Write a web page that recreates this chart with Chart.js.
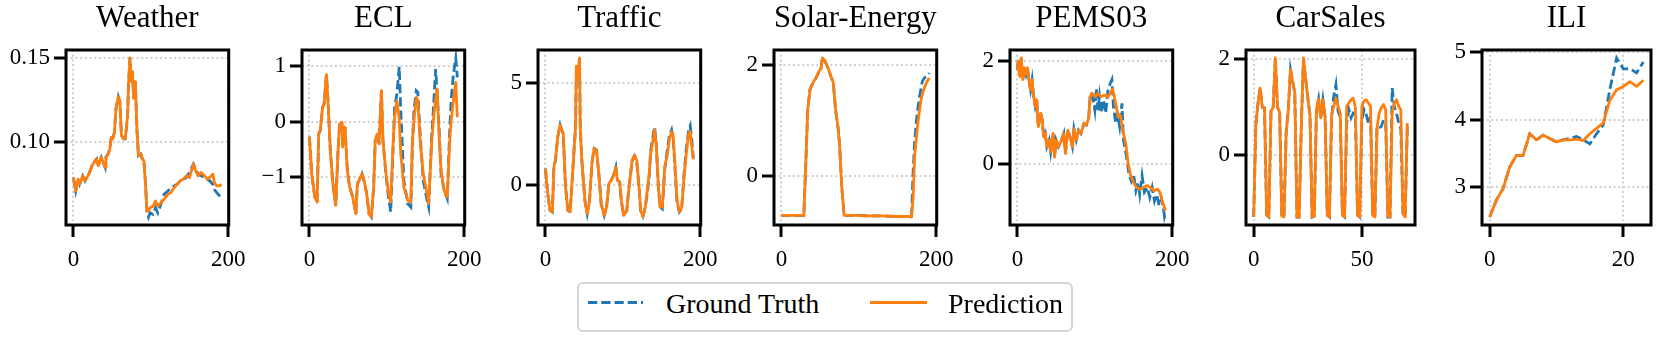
<!DOCTYPE html>
<html>
<head>
<meta charset="utf-8">
<script src="https://cdn.jsdelivr.net/npm/chart.js@4.4.1/dist/chart.umd.min.js"></script>
<style>
html, body { margin: 0; padding: 0; background: #fff; overflow: hidden; }
#wrap { position: relative; width: 1660px; height: 338px; }
canvas.panel { position: absolute; top: 0; }
#legend {
    position: absolute; left: 577px; top: 282px; width: 492px; height: 46px;
    border: 2px solid #d4d4d4; border-radius: 6px;
    font-family: "Liberation Serif", "Times New Roman", serif; font-size: 28px; color: #000;
}
#legend svg { position: absolute; left: 0; top: 0; }
#legend span { position: absolute; top: 5.5px; line-height: 28px; white-space: nowrap; }
</style>
</head>
<body>
<div id="wrap">
    <canvas class="panel" id="chart-Weather" width="255" height="275" style="left:0px"></canvas>
    <canvas class="panel" id="chart-ECL" width="255" height="275" style="left:236px"></canvas>
    <canvas class="panel" id="chart-Traffic" width="255" height="275" style="left:472px"></canvas>
    <canvas class="panel" id="chart-Solar" width="255" height="275" style="left:708px"></canvas>
    <canvas class="panel" id="chart-PEMS03" width="255" height="275" style="left:944px"></canvas>
    <canvas class="panel" id="chart-CarSales" width="255" height="275" style="left:1180px"></canvas>
    <canvas class="panel" id="chart-ILI" width="255" height="275" style="left:1416px"></canvas>
    <div id="legend">
        <svg width="492" height="46">
            <line x1="9" y1="18.5" x2="64" y2="18.5" stroke="#1f77b4" stroke-width="2.8" stroke-dasharray="9.25 4"></line>
            <line x1="291" y1="18.5" x2="348" y2="18.5" stroke="#ff7f0e" stroke-width="2.8"></line>
        </svg>
        <span style="left:87px">Ground Truth</span>
        <span style="left:369px">Prediction</span>
    </div>
</div>
<script>
// ---- data (x = time step) ----
// history is shared by both lines, truth / pred are the forecast part

var weatherHistX = [0, 3, 6, 8, 12, 15, 20, 24, 28, 30, 32, 36, 41, 42, 45, 47, 49, 51, 53, 55, 58, 60, 62, 65, 67, 70, 71, 73, 75, 76, 78, 80, 82, 84, 87, 89, 91, 93, 95];
var weatherHist = [0.079, 0.071, 0.078, 0.075, 0.080, 0.077, 0.081, 0.086, 0.089, 0.090, 0.086, 0.091, 0.085, 0.091, 0.093, 0.096, 0.103, 0.102, 0.106, 0.120, 0.127, 0.124, 0.104, 0.102, 0.102, 0.116, 0.132, 0.150, 0.136, 0.142, 0.126, 0.136, 0.108, 0.092, 0.093, 0.090, 0.089, 0.076, 0.059];
var weatherFutX = [97, 99, 103, 106, 109, 113, 117, 122, 126, 130, 134, 138, 142, 146, 150, 155, 157, 161, 165, 169, 173, 176, 180, 182, 185, 189, 191];
var weatherTruth = [0.0555, 0.058, 0.057, 0.061, 0.058, 0.063, 0.069, 0.071, 0.073, 0.074, 0.075, 0.077, 0.078, 0.079, 0.082, 0.087, 0.085, 0.081, 0.080, 0.079, 0.078, 0.077, 0.075, 0.072, 0.070, 0.068, 0.067];
var weatherPred = [0.059, 0.061, 0.062, 0.065, 0.062, 0.064, 0.066, 0.069, 0.070, 0.073, 0.075, 0.077, 0.078, 0.080, 0.079, 0.087, 0.084, 0.080, 0.082, 0.080, 0.078, 0.079, 0.081, 0.076, 0.074, 0.074, 0.075];

var eclHistX = [0, 3, 7, 10, 12, 14, 17, 19, 22, 24, 27, 30, 32, 34, 37, 39, 42, 43, 46, 49, 52, 56, 60, 62, 66, 68, 71, 74, 77, 80, 83, 85, 88, 90, 93, 95];
var eclHist = [-0.27, -0.94, -1.36, -1.45, -0.22, -0.16, 0.26, 0.32, 0.85, 0.38, -0.52, -1.06, -1.30, -1.51, -0.52, -0.04, -0.01, -0.46, -0.10, -0.88, -1.18, -1.36, -1.66, -1.12, -1.00, -0.94, -1.09, -1.30, -1.66, -1.72, -1.18, -0.34, -0.22, -0.40, 0.56, -0.34];
var eclFutX = [99, 102, 105, 108, 110, 113, 116, 118, 122, 127, 131, 133, 135, 138, 140, 143, 147, 152, 154, 158, 160, 163, 165, 167, 170, 174, 178, 181, 183, 186, 189, 191];
var eclTruth = [-0.98, -1.35, -1.63, -0.52, 0.26, 0.50, 0.99, 0.20, -1.06, -1.48, -1.54, -0.46, 0.20, 0.56, 0.53, -0.22, -1.06, -1.42, -1.54, -0.22, 0.20, 0.95, 0.50, 0.02, -0.94, -1.24, -1.39, -0.22, 0.38, 0.86, 1.15, 0.80];
var eclPred = [-0.94, -1.27, -1.45, -0.40, 0.08, 0.38, 0.05, -0.58, -1.18, -1.42, -1.45, -0.34, 0.02, 0.44, 0.38, -0.34, -0.94, -1.30, -1.48, -0.34, 0.02, 0.41, 0.59, -0.10, -0.88, -1.24, -1.36, -0.40, 0.02, 0.38, 0.71, 0.08];

var trafficHistX = [0, 3, 6, 9, 11, 13, 16, 19, 21, 23, 26, 29, 32, 34, 37, 39, 40, 42, 44, 45, 47, 51, 54, 57, 60, 63, 66, 69, 72, 76, 79, 82, 85, 88, 91, 93, 96];
var trafficHist = [0.79, -0.45, -1.27, -1.35, 0.87, 1.20, 2.36, 2.94, 2.69, 2.52, -0.12, -1.27, -1.35, -0.12, 1.70, 2.85, 5.83, 5.17, 6.24, 2.85, 1.20, -0.78, -1.44, -0.78, 1.04, 1.78, 1.70, 0.54, -0.94, -1.52, -1.11, 0.05, 0.21, 0.46, 0.87, 0.21, 0.13];
var trafficFutX = [98, 101, 105, 108, 112, 115, 118, 121, 123, 126, 129, 132, 134, 136, 139, 141, 143, 146, 148, 151, 154, 157, 160, 163, 165, 167, 170, 173, 176, 179, 182, 185, 187, 189, 191];
var trafficTruth = [-0.80, -1.50, -1.30, -0.10, 1.15, 1.40, 1.10, -0.20, -1.30, -1.55, -1.10, -0.30, 0.40, 1.70, 2.40, 2.85, 2.10, -0.20, -1.10, -1.20, 0.70, 1.60, 2.40, 2.70, 2.30, 1.00, -0.90, -1.35, -1.20, 0.50, 1.80, 2.70, 2.90, 2.20, 1.30];
var trafficPred = [-0.78, -1.52, -1.27, -0.12, 1.20, 1.45, 1.20, -0.12, -1.27, -1.60, -1.11, -0.12, 0.54, 1.53, 2.19, 2.69, 2.03, -0.12, -1.11, -1.11, 0.87, 1.37, 2.19, 2.61, 2.36, 1.20, -0.78, -1.35, -1.11, 0.38, 1.53, 2.52, 2.61, 1.86, 1.25];

var solarHistX = [0, 10, 20, 29, 31, 34, 37, 41, 45, 49, 51, 53, 56, 60, 63, 65, 67, 70, 73, 75, 78, 81, 90, 95];
var solarHist = [-0.70, -0.70, -0.70, -0.70, 0.04, 1.19, 1.56, 1.68, 1.77, 1.89, 1.92, 2.12, 2.07, 1.95, 1.83, 1.75, 1.68, 1.19, 0.89, 0.59, -0.20, -0.70, -0.70, -0.70];
var solarFutX = [96, 110, 130, 150, 165, 168, 170, 172, 174, 176, 178, 180, 182, 184, 186, 188, 191];
var solarTruth = [-0.70, -0.71, -0.71, -0.72, -0.72, -0.72, 0.05, 0.60, 0.95, 1.20, 1.40, 1.55, 1.70, 1.75, 1.78, 1.80, 1.85];
var solarPred = [-0.70, -0.71, -0.71, -0.72, -0.72, -0.73, -0.40, 0.35, 0.65, 0.92, 1.15, 1.35, 1.47, 1.56, 1.63, 1.70, 1.76];

var pemsHistX = [0, 1, 3, 5, 7, 9, 11, 13, 15, 17, 19, 21, 23, 25, 27, 30, 32, 34, 36, 38, 41, 43, 46, 48, 50, 53, 57, 60, 62, 65, 68, 71, 73, 76, 79, 82, 86, 89, 92, 94, 96];
var pemsHist = [1.82, 1.99, 1.69, 2.05, 1.63, 1.86, 1.73, 1.86, 1.60, 1.43, 1.63, 1.30, 1.11, 1.24, 0.72, 0.98, 0.85, 0.52, 0.59, 0.33, 0.46, 0.23, 0.59, 0.13, 0.46, 0.33, 0.46, 0.59, 0.20, 0.65, 0.52, 0.33, 0.68, 0.46, 0.65, 0.59, 0.78, 0.75, 0.88, 1.30, 1.37];
var pemsTruthX = [98, 100, 102, 104, 106, 108, 111, 114, 117, 120, 122, 124, 127, 129, 132, 135, 137, 141, 144, 147, 150, 153, 156, 158, 161, 164, 168, 171, 174, 177, 180, 183, 186, 189, 190, 191];
var pemsTruth = [1.24, 1.04, 1.46, 1.04, 1.30, 0.98, 1.24, 0.98, 1.43, 1.56, 1.63, 1.11, 0.78, 0.98, 0.72, 1.17, 0.46, 0.13, -0.20, -0.33, -0.20, -0.52, -0.36, -0.59, -0.23, -0.55, -0.46, -0.65, -0.46, -0.72, -0.59, -0.81, -0.68, -0.91, -1.03, -0.98];
var pemsPredX = [98, 101, 104, 108, 112, 117, 121, 123, 126, 130, 133, 136, 140, 143, 146, 150, 154, 158, 162, 168, 172, 176, 181, 184, 187, 189, 191];
var pemsPred = [1.33, 1.30, 1.37, 1.30, 1.33, 1.30, 1.40, 1.45, 1.24, 0.91, 0.94, 0.65, 0.39, 0.00, -0.20, -0.36, -0.46, -0.49, -0.46, -0.42, -0.46, -0.52, -0.49, -0.55, -0.72, -0.80, -0.91];

var carHistX = [0, 1, 2, 3, 4, 5, 6, 7, 8, 9, 10, 11, 12, 13, 14, 15, 16, 17, 18, 19, 20, 21, 22, 23, 24, 25, 26, 27, 28, 29, 30, 31, 32, 33, 34, 35];
var carHist = [-1.29, 0.64, 1.09, 1.40, 1.00, 0.99, -1.25, -1.29, 0.92, 1.00, 2.03, 1.00, 0.90, -1.27, -1.29, 0.46, 0.95, 1.79, 1.54, 1.30, -1.29, -1.29, 0.60, 2.03, 1.60, 1.20, 0.85, -1.29, -1.27, 0.95, 1.18, 0.78, 1.16, 0.80, -1.25, -1.29];
var carFutX = [36, 37, 38, 39, 40, 41, 42, 43, 44, 45, 46, 47, 48, 49, 50, 51, 52, 53, 54, 55, 56, 57, 58, 59, 60, 61, 62, 63, 64, 65, 66, 67, 68, 69, 70, 71];
var carTruth = [0.78, 1.23, 1.47, 0.92, 0.80, -1.25, -1.29, 0.67, 0.95, 0.78, 0.88, 0.85, -1.25, -1.29, 0.74, 0.95, 0.85, 0.67, 0.81, -1.27, -1.29, 0.60, 0.57, 0.60, 0.74, 0.70, -1.29, -1.29, 1.40, 1.02, 0.88, 0.67, 0.55, -1.22, -1.29, 0.60];
var carPred = [0.85, 1.02, 1.19, 1.02, 0.88, -1.25, -1.29, 1.02, 1.09, 1.16, 1.19, 1.00, -1.25, -1.29, 1.02, 1.13, 1.16, 1.09, 1.02, -1.25, -1.29, 0.57, 0.88, 0.99, 1.06, 0.95, -1.27, -1.29, 0.88, 1.09, 1.16, 1.02, 0.95, -1.22, -1.29, 0.67];

var iliHistX = [0, 1, 2, 3, 4, 5, 6, 7, 8, 9, 10, 11];
var iliHist = [2.56, 2.81, 2.98, 3.30, 3.47, 3.47, 3.79, 3.70, 3.77, 3.72, 3.67, 3.70];
var iliFutX = [12, 13, 14, 15, 16, 17, 18, 19, 20, 21, 22, 23];
var iliTruth = [3.72, 3.75, 3.70, 3.64, 3.79, 3.92, 4.45, 4.91, 4.75, 4.75, 4.69, 4.85];
var iliPred = [3.70, 3.71, 3.69, 3.79, 3.87, 3.95, 4.29, 4.44, 4.49, 4.56, 4.49, 4.58];

// tick values per panel
var weatherXTicks = [0, 200], weatherYTicks = [0.10, 0.15];
var eclXTicks = [0, 200], eclYTicks = [-1, 0, 1];
var trafficXTicks = [0, 200], trafficYTicks = [0, 5];
var solarXTicks = [0, 200], solarYTicks = [0, 2];
var pemsXTicks = [0, 200], pemsYTicks = [0, 2];
var carXTicks = [0, 50], carYTicks = [0, 2];
var iliXTicks = [0, 20], iliYTicks = [3, 4, 5];

var BLUE = '#1f77b4';
var ORANGE = '#ff7f0e';
var SERIF = '"Liberation Serif", "Times New Roman", serif';

function pts(xs, ys) {
    var out = [];
    for (let i = 0; i < xs.length; i++) {
        out.push({ x: xs[i], y: ys[i] });
    }
    return out;
}

function plainLabel(v) {
    return (v < 0 ? '\u2212' : '') + Math.abs(v);
}

// draws the black box around the plot area, like matplotlib spines
var frame = {
    id: 'frame',
    afterDatasetsDraw(chart) {
        var a = chart.chartArea;
        var ctx = chart.ctx;
        ctx.save();
        ctx.lineWidth = 3;
        ctx.strokeStyle = '#000';
        ctx.strokeRect(a.left, a.top, a.right - a.left, a.bottom - a.top);
        ctx.restore();
    }
};

function makePanel(canvasId, title, histX, hist, truthX, truth, predX, pred, xTicks, yTicks, fmt) {
    var allY = hist.concat(truth, pred);
    var allX = histX.concat(truthX, predX);
    var yLo = Math.min(...allY), yHi = Math.max(...allY);
    var xLo = Math.min(...allX), xHi = Math.max(...allX);
    var yPad = (yHi - yLo) * 0.05;
    var xPad = (xHi - xLo) * 0.05;

    var grid = {
        color: '#d0d0d0', lineWidth: 2,
        drawTicks: true, tickLength: 12, tickWidth: 3, tickColor: '#000', tickBorderDash: []
    };
    var border = { display: false, dash: [2, 2.7] };
    var tickFont = { family: SERIF, size: 23 };

    return new Chart(document.getElementById(canvasId).getContext('2d'), {
        type: 'line',
        data: {
            datasets: [{
                label: 'Prediction',
                data: pts(histX.concat(predX), hist.concat(pred)),
                borderColor: ORANGE,
                borderWidth: 2.8,
                borderJoinStyle: 'round',
                pointRadius: 0,
                tension: 0
            }, {
                label: 'Ground Truth',
                data: pts(histX.concat(truthX), hist.concat(truth)),
                borderColor: BLUE,
                borderWidth: 2.8,
                borderDash: [9.25, 4],
                pointRadius: 0,
                tension: 0
            }]
        },
        options: {
            responsive: false,
            animation: false,
            devicePixelRatio: 1,
            layout: { padding: { left: 0, right: 20, top: 0, bottom: 0 } },
            plugins: {
                legend: { display: false },
                tooltip: { enabled: false },
                title: {
                    display: true,
                    text: title,
                    fullSize: false,
                    color: '#000',
                    font: { family: SERIF, size: 31, weight: 'normal', lineHeight: 1.2 },
                    padding: { top: 0.2, bottom: 12.6 }
                }
            },
            scales: {
                x: {
                    type: 'linear',
                    min: xLo - xPad,
                    max: xHi + xPad,
                    afterBuildTicks: function (axis) { axis.ticks = xTicks.map(v => ({ value: v })); },
                    afterFit: function (axis) { axis.height = 50; },
                    grid: grid,
                    border: border,
                    ticks: { color: '#000', font: tickFont, padding: 9.4, maxRotation: 0, autoSkip: false, callback: v => plainLabel(v) }
                },
                y: {
                    type: 'linear',
                    min: yLo - yPad,
                    max: yHi + yPad,
                    afterBuildTicks: function (axis) { axis.ticks = yTicks.map(v => ({ value: v })); },
                    afterFit: function (axis) { axis.width = 66; },
                    grid: grid,
                    border: border,
                    ticks: { color: '#000', font: tickFont, padding: 4, autoSkip: false, callback: v => fmt(v) }
                }
            }
        },
        plugins: [frame]
    });
}

makePanel('chart-Weather', 'Weather', weatherHistX, weatherHist, weatherFutX, weatherTruth, weatherFutX, weatherPred,
    weatherXTicks, weatherYTicks, v => v.toFixed(2));
makePanel('chart-ECL', 'ECL', eclHistX, eclHist, eclFutX, eclTruth, eclFutX, eclPred,
    eclXTicks, eclYTicks, plainLabel);
makePanel('chart-Traffic', 'Traffic', trafficHistX, trafficHist, trafficFutX, trafficTruth, trafficFutX, trafficPred,
    trafficXTicks, trafficYTicks, plainLabel);
makePanel('chart-Solar', 'Solar-Energy', solarHistX, solarHist, solarFutX, solarTruth, solarFutX, solarPred,
    solarXTicks, solarYTicks, plainLabel);
makePanel('chart-PEMS03', 'PEMS03', pemsHistX, pemsHist, pemsTruthX, pemsTruth, pemsPredX, pemsPred,
    pemsXTicks, pemsYTicks, plainLabel);
makePanel('chart-CarSales', 'CarSales', carHistX, carHist, carFutX, carTruth, carFutX, carPred,
    carXTicks, carYTicks, plainLabel);
makePanel('chart-ILI', 'ILI', iliHistX, iliHist, iliFutX, iliTruth, iliFutX, iliPred,
    iliXTicks, iliYTicks, plainLabel);
</script>
</body>
</html>
